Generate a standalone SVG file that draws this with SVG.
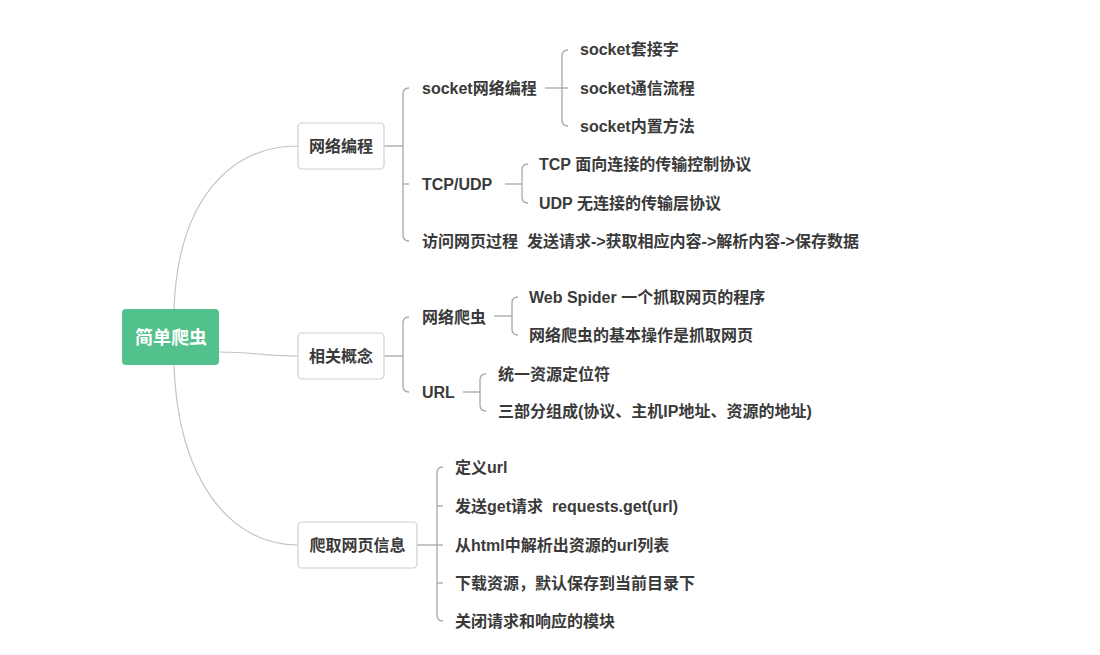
<svg xmlns="http://www.w3.org/2000/svg" width="1100" height="655" viewBox="0 0 1100 655">
<style>
.bg{fill:#ffffff}
.curve{fill:none;stroke:#c4c4c4;stroke-width:1.2}
.br{fill:none;stroke:#a8a8a8;stroke-width:1.3}
.box{fill:#ffffff;stroke:#cfcfcf;stroke-width:1.2}
.root{fill:#52c18b}
.t{font-family:"Liberation Sans","Noto Sans CJK SC",sans-serif;font-size:16px;font-weight:bold;fill:#3a3a3a}
.n{font-family:"Liberation Sans","Noto Sans CJK SC",sans-serif;font-size:16px;font-weight:bold;fill:#3a3a3a;text-anchor:middle}
.rt{font-family:"Liberation Sans","Noto Sans CJK SC",sans-serif;font-size:18px;font-weight:bold;fill:#ffffff;text-anchor:middle}
</style>
<rect class="bg" x="0" y="0" width="1100" height="655"/>
<g id="connectors">
<path class="curve" d="M174,309 C178,200 230,146 298,146"/>
<path class="curve" d="M219,352 C255,352 262,356 298,356"/>
<path class="curve" d="M174,365 C178,480 230,545 298,545"/>
<!-- 网络编程 -->
<path class="br" d="M384,146 L403,146"/>
<path class="br" d="M409,88 Q403,88 403,94 L403,235 Q403,241 409,241"/>
<path class="br" d="M403,184 L409,184"/>
<!-- socket网络编程 -->
<path class="br" d="M545,88 L568,88"/>
<path class="br" d="M568,50 Q562,50 562,56 L562,120 Q562,126 568,126"/>
<!-- TCP/UDP -->
<path class="br" d="M505,184 L522,184"/>
<path class="br" d="M528,164 Q522,164 522,170 L522,197 Q522,203 528,203"/>
<!-- 相关概念 -->
<path class="br" d="M384,356 L403,356"/>
<path class="br" d="M409,317 Q403,317 403,323 L403,386 Q403,392 409,392"/>
<!-- 网络爬虫 -->
<path class="br" d="M494,316 L512,316"/>
<path class="br" d="M518,297 Q512,297 512,303 L512,329 Q512,335 518,335"/>
<!-- URL -->
<path class="br" d="M463,392 L480,392"/>
<path class="br" d="M486,374 Q480,374 480,380 L480,405 Q480,411 486,411"/>
<!-- 爬取网页信息 -->
<path class="br" d="M417,545 L437,545"/>
<path class="br" d="M443,467 Q437,467 437,473 L437,615 Q437,621 443,621"/>
<path class="br" d="M437,506 L443,506"/>
<path class="br" d="M437,545 L443,545"/>
<path class="br" d="M437,583 L443,583"/>
</g>
<g id="root">
<rect class="root" x="122" y="309" width="97" height="56" rx="4"/>
<text class="rt" x="171" y="344">简单爬虫</text>
</g>
<g id="n-wlbc">
<rect class="box" x="298" y="123" width="86" height="46" rx="4"/>
<text class="n" x="341" y="152">网络编程</text>
</g>
<g id="n-xggn">
<rect class="box" x="298" y="333" width="86" height="46" rx="4"/>
<text class="n" x="341" y="362">相关概念</text>
</g>
<g id="n-pqwyxx">
<rect class="box" x="298" y="522" width="119" height="46" rx="4"/>
<text class="n" x="357.5" y="551">爬取网页信息</text>
</g>
<g id="socket"><text class="t" x="422" y="94">socket网络编程</text></g>
<g id="socket1"><text class="t" x="580" y="55">socket套接字</text></g>
<g id="socket2"><text class="t" x="580" y="94">socket通信流程</text></g>
<g id="socket3"><text class="t" x="580" y="132">socket内置方法</text></g>
<g id="tcpudp"><text class="t" x="422" y="190">TCP/UDP</text></g>
<g id="tcp"><text class="t" x="539" y="170">TCP 面向连接的传输控制协议</text></g>
<g id="udp"><text class="t" x="539" y="209">UDP 无连接的传输层协议</text></g>
<g id="fwwy"><text class="t" x="422" y="247" xml:space="preserve">访问网页过程  发送请求-&gt;获取相应内容-&gt;解析内容-&gt;保存数据</text></g>
<g id="wlpc"><text class="t" x="422" y="323">网络爬虫</text></g>
<g id="webspider"><text class="t" x="529" y="303">Web Spider 一个抓取网页的程序</text></g>
<g id="wlpc2"><text class="t" x="529" y="341">网络爬虫的基本操作是抓取网页</text></g>
<g id="url"><text class="t" x="422" y="398">URL</text></g>
<g id="url1"><text class="t" x="498" y="380">统一资源定位符</text></g>
<g id="url2"><text class="t" x="498" y="417">三部分组成(协议、主机IP地址、资源的地址)</text></g>
<g id="s1"><text class="t" x="455" y="473">定义url</text></g>
<g id="s2"><text class="t" x="455" y="512" xml:space="preserve">发送get请求  requests.get(url)</text></g>
<g id="s3"><text class="t" x="455" y="551">从html中解析出资源的url列表</text></g>
<g id="s4"><text class="t" x="455" y="589">下载资源，默认保存到当前目录下</text></g>
<g id="s5"><text class="t" x="455" y="627">关闭请求和响应的模块</text></g>
</svg>
